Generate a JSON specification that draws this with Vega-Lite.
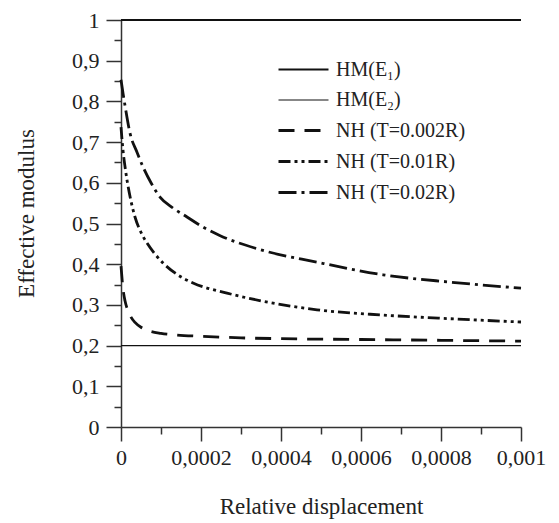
{
  "$schema": "https://vega.github.io/schema/vega-lite/v6.json",
  "autosize": {"type": "none"},
  "padding": {"left": 121, "top": 20, "right": 38, "bottom": 96},
  "width": 400,
  "height": 407,
  "background": "white",
  "config": {
    "view": {"stroke": null},
    "font": "Liberation Serif"
  },
  "data": {
    "values": [
      {"series": "HM(E₁)", "x": 0, "y": 1},
      {"series": "HM(E₁)", "x": 0.001, "y": 1},
      {"series": "HM(E₂)", "x": 0, "y": 0.2},
      {"series": "HM(E₂)", "x": 0.001, "y": 0.2},
      {"series": "NH (T=0.002R)", "x": 0, "y": 0.395},
      {"series": "NH (T=0.002R)", "x": 0.000005, "y": 0.34},
      {"series": "NH (T=0.002R)", "x": 0.00001, "y": 0.31},
      {"series": "NH (T=0.002R)", "x": 0.000015, "y": 0.292},
      {"series": "NH (T=0.002R)", "x": 0.000025, "y": 0.27},
      {"series": "NH (T=0.002R)", "x": 0.000035, "y": 0.257},
      {"series": "NH (T=0.002R)", "x": 0.00005, "y": 0.245},
      {"series": "NH (T=0.002R)", "x": 0.000065, "y": 0.238},
      {"series": "NH (T=0.002R)", "x": 0.0001, "y": 0.23},
      {"series": "NH (T=0.002R)", "x": 0.00014, "y": 0.226},
      {"series": "NH (T=0.002R)", "x": 0.0002, "y": 0.223},
      {"series": "NH (T=0.002R)", "x": 0.0003, "y": 0.219},
      {"series": "NH (T=0.002R)", "x": 0.0004, "y": 0.217},
      {"series": "NH (T=0.002R)", "x": 0.0006, "y": 0.215},
      {"series": "NH (T=0.002R)", "x": 0.0008, "y": 0.213},
      {"series": "NH (T=0.002R)", "x": 0.001, "y": 0.211},
      {"series": "NH (T=0.01R)", "x": 0, "y": 0.737},
      {"series": "NH (T=0.01R)", "x": 0.000005, "y": 0.68},
      {"series": "NH (T=0.01R)", "x": 0.00001, "y": 0.64},
      {"series": "NH (T=0.01R)", "x": 0.000015, "y": 0.607},
      {"series": "NH (T=0.01R)", "x": 0.000025, "y": 0.555},
      {"series": "NH (T=0.01R)", "x": 0.000035, "y": 0.516},
      {"series": "NH (T=0.01R)", "x": 0.00005, "y": 0.478},
      {"series": "NH (T=0.01R)", "x": 0.000065, "y": 0.452},
      {"series": "NH (T=0.01R)", "x": 0.000085, "y": 0.425},
      {"series": "NH (T=0.01R)", "x": 0.000105, "y": 0.403},
      {"series": "NH (T=0.01R)", "x": 0.00014, "y": 0.375},
      {"series": "NH (T=0.01R)", "x": 0.00018, "y": 0.354},
      {"series": "NH (T=0.01R)", "x": 0.000265, "y": 0.329},
      {"series": "NH (T=0.01R)", "x": 0.00035, "y": 0.31},
      {"series": "NH (T=0.01R)", "x": 0.00049, "y": 0.288},
      {"series": "NH (T=0.01R)", "x": 0.000655, "y": 0.275},
      {"series": "NH (T=0.01R)", "x": 0.000823, "y": 0.266},
      {"series": "NH (T=0.01R)", "x": 0.001, "y": 0.258},
      {"series": "NH (T=0.02R)", "x": 0, "y": 0.853},
      {"series": "NH (T=0.02R)", "x": 0.000005, "y": 0.82},
      {"series": "NH (T=0.02R)", "x": 0.00001, "y": 0.79},
      {"series": "NH (T=0.02R)", "x": 0.0000225, "y": 0.722},
      {"series": "NH (T=0.02R)", "x": 0.00004, "y": 0.675},
      {"series": "NH (T=0.02R)", "x": 0.000055, "y": 0.639},
      {"series": "NH (T=0.02R)", "x": 0.000075, "y": 0.6},
      {"series": "NH (T=0.02R)", "x": 0.0000975, "y": 0.565},
      {"series": "NH (T=0.02R)", "x": 0.00013, "y": 0.538},
      {"series": "NH (T=0.02R)", "x": 0.000165, "y": 0.516},
      {"series": "NH (T=0.02R)", "x": 0.0002, "y": 0.494},
      {"series": "NH (T=0.02R)", "x": 0.000248, "y": 0.47},
      {"series": "NH (T=0.02R)", "x": 0.00034, "y": 0.438},
      {"series": "NH (T=0.02R)", "x": 0.00049, "y": 0.405},
      {"series": "NH (T=0.02R)", "x": 0.000655, "y": 0.374},
      {"series": "NH (T=0.02R)", "x": 0.000823, "y": 0.356},
      {"series": "NH (T=0.02R)", "x": 0.001, "y": 0.341}
    ]
  },
  "mark": {"type": "line", "interpolate": "monotone", "stroke": "#111", "clip": false},
  "encoding": {
    "x": {
      "field": "x", "type": "quantitative",
      "scale": {"domain": [0, 0.001], "nice": false, "zero": false},
      "axis": {
        "title": "Relative displacement",
        "values": [0, 0.0001, 0.0002, 0.0003, 0.0004, 0.0005, 0.0006, 0.0007, 0.0008, 0.0009, 0.001],
        "labelExpr": "round(datum.value*10000)%2==0 ? replace(toString(round(datum.value*10000)/10000), '.', ',') : ''",
        "grid": false,
        "domainColor": "#333", "domainWidth": 1.5,
        "tickColor": "#333", "tickWidth": 1.5,
        "tickSize": {"condition": {"test": "round(datum.value*10000)%2==0", "value": 14}, "value": 7},
        "labelFont": "Liberation Serif", "labelFontSize": 22, "labelColor": "#222",
        "labelPadding": 6, "labelOverlap": false, "labelBound": false, "labelFlush": false,
        "titleFont": "Liberation Serif", "titleFontSize": 23, "titleFontWeight": "normal", "titleColor": "#222",
        "titleX": 200, "titleY": 86, "titleBaseline": "alphabetic", "titleAlign": "center"
      }
    },
    "y": {
      "field": "y", "type": "quantitative",
      "scale": {"domain": [0, 1], "nice": false, "zero": false},
      "axis": {
        "title": "Effective modulus",
        "values": [0, 0.05, 0.1, 0.15, 0.2, 0.25, 0.3, 0.35, 0.4, 0.45, 0.5, 0.55, 0.6, 0.65, 0.7, 0.75, 0.8, 0.85, 0.9, 0.95, 1],
        "labelExpr": "round(datum.value*20)%2==0 ? replace(toString(round(datum.value*10)/10), '.', ',') : ''",
        "grid": false,
        "domainColor": "#333", "domainWidth": 1.5,
        "tickColor": "#333", "tickWidth": 1.5,
        "tickSize": {"condition": {"test": "round(datum.value*20)%2==0", "value": 15}, "value": 7},
        "labelFont": "Liberation Serif", "labelFontSize": 22, "labelColor": "#222",
        "labelPadding": 7, "labelOverlap": false, "labelBound": false, "labelFlush": false,
        "titleFont": "Liberation Serif", "titleFontSize": 23, "titleFontWeight": "normal", "titleColor": "#222",
        "titleX": -88, "titleY": 193, "titleBaseline": "alphabetic", "titleAlign": "center", "titleAngle": -90
      }
    },
    "strokeDash": {
      "field": "series", "type": "nominal",
      "scale": {
        "domain": ["HM(E₁)", "HM(E₂)", "NH (T=0.002R)", "NH (T=0.01R)", "NH (T=0.02R)"],
        "range": [[1, 0], [1, 0], [16, 10], [12, 4, 3, 4, 3, 4], [18, 5, 3, 5]]
      },
      "legend": {
        "title": null,
        "orient": "none",
        "legendX": 171,
        "legendY": 38,
        "symbolType": "M-2.5,0H2.5",
        "symbolSize": 400,
        "symbolStrokeColor": "#111",
        "labelOffset": 21,
        "rowPadding": 9,
        "labelFont": "Liberation Serif",
        "labelFontSize": 20,
        "labelColor": "#222",
        "labelLimit": 300
      }
    },
    "strokeWidth": {
      "field": "series", "type": "ordinal",
      "scale": {
        "type": "ordinal",
        "domain": ["HM(E₁)", "HM(E₂)", "NH (T=0.002R)", "NH (T=0.01R)", "NH (T=0.02R)"],
        "range": [2.2, 1.2, 2.8, 2.8, 2.8]
      },
      "legend": {
        "title": null,
        "orient": "none",
        "legendX": 171,
        "legendY": 38,
        "symbolType": "M-2.5,0H2.5",
        "symbolSize": 400,
        "symbolStrokeColor": "#111",
        "labelOffset": 21,
        "rowPadding": 9,
        "labelFont": "Liberation Serif",
        "labelFontSize": 20,
        "labelColor": "#222",
        "labelLimit": 300
      }
    }
  }
}
